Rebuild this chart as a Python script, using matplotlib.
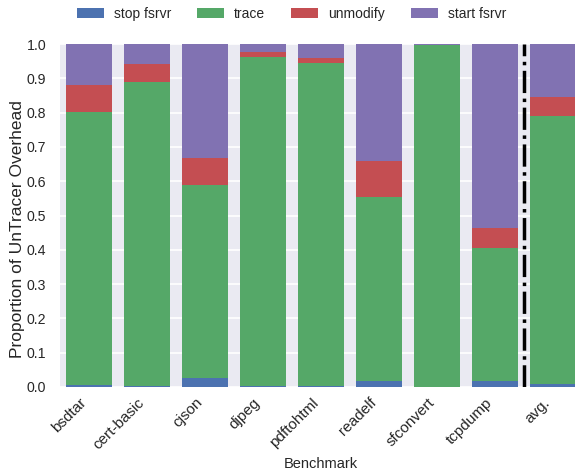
import matplotlib
matplotlib.use("Agg")
import matplotlib.pyplot as plt
import numpy as np

benchmarks = ['bsdtar', 'cert-basic', 'cjson', 'djpeg', 'pdftohtml',
              'readelf', 'sfconvert', 'tcpdump', 'avg.']
stop_fsrvr = [0.007, 0.004, 0.026, 0.002, 0.002, 0.018, 0.000, 0.018, 0.010]
trace = [0.795, 0.886, 0.562, 0.960, 0.943, 0.535, 0.997, 0.388, 0.779]
unmodify = [0.078, 0.052, 0.080, 0.016, 0.015, 0.105, 0.000, 0.057, 0.056]
start_fsrvr = [0.120, 0.058, 0.332, 0.022, 0.040, 0.342, 0.003, 0.537, 0.155]

series = [('stop fsrvr', stop_fsrvr, '#4C72B0'),
          ('trace', trace, '#55A868'),
          ('unmodify', unmodify, '#C44E52'),
          ('start fsrvr', start_fsrvr, '#8172B2')]

plt.rcParams['font.family'] = ['Liberation Sans', 'DejaVu Sans']
plt.rcParams['text.color'] = '#262626'

fig = plt.figure(figsize=(5.75, 4.75), dpi=100)
ax = fig.add_axes([60 / 575, 88 / 475, 522 / 575, 343 / 475])
ax.set_facecolor('#EAEAF2')
for s in ax.spines.values():
    s.set_visible(False)
ax.set_axisbelow(True)
ax.yaxis.grid(True, color='white', linewidth=1.2)

x = np.arange(len(benchmarks))
bottom = np.zeros(len(benchmarks))
for name, vals, color in series:
    ax.bar(x, vals, 0.81, bottom=bottom, color=color, label=name)
    bottom += np.array(vals)

# separator before the average bar
ax.axvline(len(benchmarks) - 1.5, color='black', linestyle='-.', linewidth=2.5)

ax.set_xlim(-0.5, len(benchmarks) - 0.5)
ax.set_ylim(0, 1.0)
ax.set_yticks(np.arange(0, 1.01, 0.1))
ax.set_yticklabels([f"{v:.1f}" for v in np.arange(0, 1.01, 0.1)])
ax.set_xticks(x)
ax.set_xticklabels(benchmarks, rotation=45, ha='right')
ax.tick_params(length=0, colors='#262626')
ax.tick_params(axis='y', labelsize=10.2, pad=10)
ax.tick_params(axis='x', labelsize=11, pad=6)
ax.set_xlabel('Benchmark', fontsize=10.5, color='#262626')
ax.set_ylabel('Proportion of UnTracer Overhead', fontsize=12.5, color='#262626')
ax.yaxis.set_label_coords(-0.067, 0.46)

fig.legend(loc='upper center', bbox_to_anchor=(0.507, 1.012), ncol=4,
           frameon=False, fontsize=10, handlelength=1.95, handleheight=0.8,
           columnspacing=1.87, handletextpad=0.72)

fig.savefig('out.png', dpi=100)
